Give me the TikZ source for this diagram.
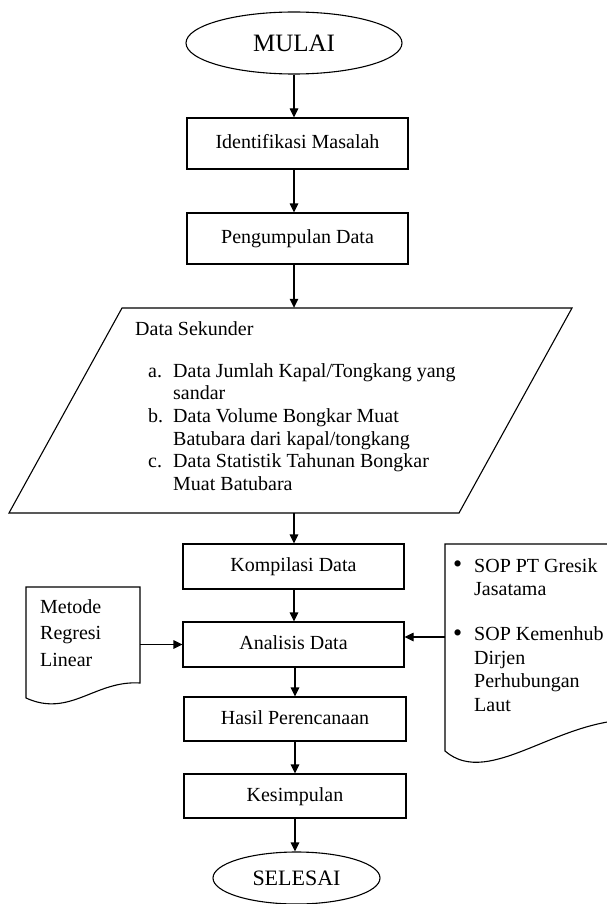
\documentclass[tikz,border=0pt]{standalone}
\usepackage{fontspec}
\setmainfont{Liberation Serif}
\usetikzlibrary{shapes.geometric,arrows.meta}
\newcommand{\mybul}{\makebox[21pt][l]{\raisebox{-0.5pt}{\scalebox{1.3}{\textbullet}}}}
\begin{document}
\begin{tikzpicture}[x=1pt,y=-1pt,
  every node/.style={font=\fontsize{20}{22.7}\selectfont},
  box/.style={draw,line width=1.1pt,rectangle,inner sep=0pt,text height=14pt,text depth=4pt},
  term/.style={draw,line width=1.1pt,ellipse,inner sep=0pt},
  arr/.style={line width=1.1pt,-{Triangle[length=9pt,width=8.5pt]}},
  shp/.style={draw,line width=1.1pt,line join=miter},
  txt/.style={anchor=north west,inner sep=0pt,align=left}]
\useasboundingbox (0,0) rectangle (607,904);

% terminals and process boxes
\node[term,minimum width=216,minimum height=62,font=\fontsize{25}{30}\selectfont] (mulai) at (294,43) {MULAI};
\node[box,minimum width=221,minimum height=51] (ident) at (297.5,143.5) {Identifikasi Masalah};
\node[box,minimum width=221,minimum height=51] (kumpul) at (297.5,238.5) {Pengumpulan Data};
% input/output parallelogram
\node[inner sep=0pt,minimum width=563,minimum height=205] (data) at (290.5,410.5) {};
\draw[shp] (122,308) -- (572,308) -- (459,513) -- (9,513) -- cycle;
\node[txt] (datatext) at (135,321) {Data Sekunder\\[19.3pt]
\hspace*{13pt}\makebox[25pt][l]{a.}Data Jumlah Kapal/Tongkang yang\\
\hspace*{38pt}sandar\\
\hspace*{13pt}\makebox[25pt][l]{b.}Data Volume Bongkar Muat\\
\hspace*{38pt}Batubara dari kapal/tongkang\\
\hspace*{13pt}\makebox[25pt][l]{c.}Data Statistik Tahunan Bongkar\\
\hspace*{38pt}Muat Batubara};
\node[box,minimum width=221,minimum height=45] (kompil) at (293.5,566.5) {Kompilasi Data};
\node[box,minimum width=221,minimum height=45] (analisis) at (293.5,644.5) {Analisis Data};
\node[box,minimum width=222,minimum height=44] (hasil) at (295,719) {Hasil Perencanaan};
\node[box,minimum width=222,minimum height=44] (simpul) at (295,796) {Kesimpulan};
\node[term,minimum width=167,minimum height=52,font=\fontsize{22}{26}\selectfont] (selesai) at (296.5,878) {SELESAI};

% document shapes
\node[inner sep=0pt,minimum width=114,minimum height=112] (metode) at (83,643) {};
\draw[shp] (26,698) -- (26,587) -- (140,587) -- (140,683) .. controls (95,680) and (70,718) .. (26,698) -- cycle;
\node[txt,font=\fontsize{20}{26.5}\selectfont] (metodetext) at (40,599) {Metode\\Regresi\\Linear};

\node[inner sep=0pt,minimum width=195,minimum height=186] (sop) at (542.5,637) {};
\begin{scope}
\clip (0,0) rectangle (607,904);
\draw[shp] (445,751) -- (445,544) -- (640,544) -- (640,720) .. controls (560,715) and (490,790) .. (445,751) -- cycle;
\end{scope}
\node[txt,font=\fontsize{20}{23.5}\selectfont] (soptext) at (453,558) {\mybul SOP PT Gresik\\
\hspace*{21pt}Jasatama\\[21.5pt]
\mybul SOP Kemenhub\\
\hspace*{21pt}Dirjen\\
\hspace*{21pt}Perhubungan\\
\hspace*{21pt}Laut};

% connectors
\draw[arr] (mulai.south) -- (mulai.south |- ident.north);
\draw[arr] (ident.south -| mulai) -- (kumpul.north -| mulai);
\draw[arr] (kumpul.south -| mulai) -- (data.north -| mulai);
\draw[arr] (data.south -| mulai) -- (kompil.north -| mulai);
\draw[arr] (kompil.south -| mulai) -- (analisis.north -| mulai);
\draw[arr] (analisis.south -| hasil) -- (hasil.north);
\draw[arr] (hasil.south) -- (simpul.north);
\draw[arr] (simpul.south) -- (simpul.south |- selesai.north);
\draw[arr] (metode.east |- analisis.west) -- (analisis.west);
\draw[arr] (sop.west) -- (sop.west -| analisis.east);
\end{tikzpicture}
\end{document}
